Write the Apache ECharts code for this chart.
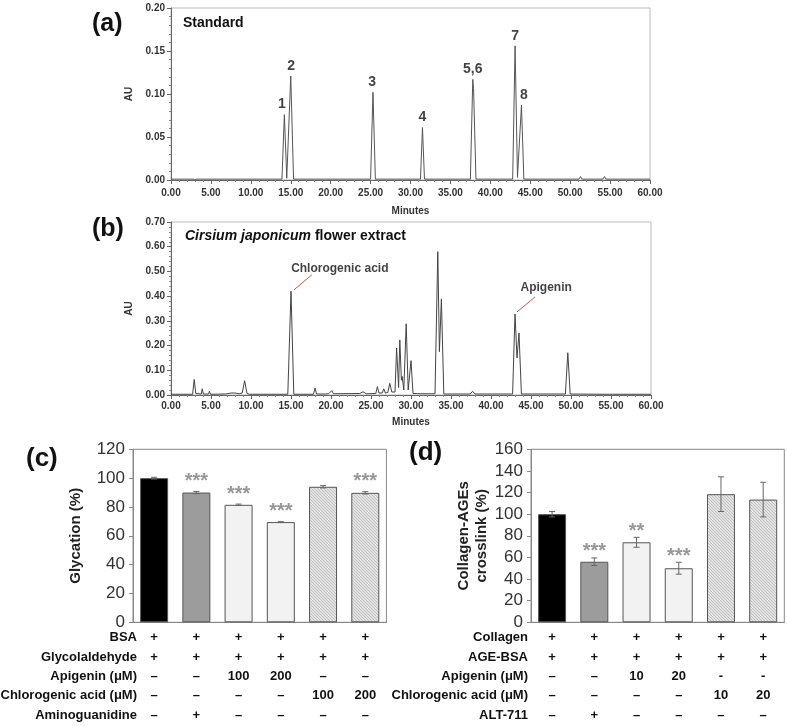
<!DOCTYPE html>
<html>
<head>
<meta charset="utf-8">
<script src="https://cdn.jsdelivr.net/npm/echarts@6/dist/echarts.min.js"></script>
<style>
  html, body { margin: 0; padding: 0; background: #fff; }
  #main { width: 787px; height: 726px; }
</style>
</head>
<body>
<div id="main"></div>
<script>
// (a) standard chromatogram trace, [minutes, AU]
const traceA = [
  [0, 0.001], [2.9, 0.001], [3.0, -0.002], [3.1, 0.001], [13.9, 0.001], [14.2, 0.076], [14.5, 0.002],
  [14.7, 0.002], [15.0, 0.121], [15.35, 0.001], [19.4, 0.001], [19.5, 0.002], [19.6, 0.001],
  [25.0, 0.001], [25.3, 0.102], [25.6, 0.001], [28.1, 0.001], [28.2, 0.002], [28.3, 0.001],
  [31.25, 0.001], [31.5, 0.061], [31.75, 0.001], [35.6, 0.001], [35.7, 0.002], [35.8, 0.001],
  [37.5, 0.001], [37.8, 0.117], [37.9, 0.106], [38.2, 0.001],
  [42.8, 0.001], [43.1, 0.156], [43.4, 0.003], [43.6, 0.003], [43.9, 0.087], [44.2, 0.001],
  [51.1, 0.001], [51.3, 0.004], [51.5, 0.001], [54.1, 0.001], [54.3, 0.004], [54.5, 0.001], [60, 0.001]
];
const peakLabelsA = [
  ['1', 13.9, 0.076], ['2', 15.05, 0.121], ['3', 25.2, 0.102], ['4', 31.5, 0.061],
  ['5,6', 37.8, 0.117], ['7', 43.1, 0.156], ['8', 44.2, 0.087]
];

// (b) flower extract trace, [minutes, AU]
const traceB = [
  [0, 0.003], [2.7, 0.003], [2.9, 0.063], [3.1, 0.006], [3.3, 0.004], [3.8, 0.004], [3.9, 0.025],
  [4.05, 0.004], [4.7, 0.004], [4.8, 0.015], [4.95, 0.003], [6.8, 0.004], [7.5, 0.008], [8.0, 0.008],
  [8.5, 0.005], [8.9, 0.008], [9.2, 0.058], [9.5, 0.006], [9.8, 0.003], [14.6, 0.003], [15.0, 0.42],
  [15.35, 0.003], [17.8, 0.003], [18.0, 0.028], [18.2, 0.004], [19.3, 0.004], [19.5, 0.012],
  [19.7, 0.005], [19.9, 0.005], [20.1, 0.018], [20.3, 0.005], [23.6, 0.006], [24.0, 0.013],
  [24.4, 0.005], [25.6, 0.006], [25.8, 0.034], [26.0, 0.008], [26.4, 0.008], [26.6, 0.025],
  [26.8, 0.008], [27.1, 0.01], [27.35, 0.047], [27.6, 0.012], [28.0, 0.012], [28.2, 0.19],
  [28.45, 0.03], [28.6, 0.223], [28.8, 0.06], [28.9, 0.075], [29.1, 0.02], [29.4, 0.288],
  [29.65, 0.02], [29.8, 0.02], [30.0, 0.139], [30.25, 0.006], [30.8, 0.006], [31.0, 0.013],
  [31.2, 0.005], [33.0, 0.005], [33.35, 0.58], [33.55, 0.175], [33.8, 0.389], [34.1, 0.004],
  [37.4, 0.004], [37.7, 0.015], [38.0, 0.004], [42.7, 0.004], [43.0, 0.328], [43.25, 0.15],
  [43.5, 0.251], [43.8, 0.004], [49.3, 0.004], [49.6, 0.171], [49.9, 0.004], [54.0, 0.003],
  [54.2, 0.01], [54.4, 0.003], [54.8, 0.003], [55.0, 0.01], [55.2, 0.003], [60, 0.003]
];
// label text, label anchor, leader line start, leader line end (on the peak)
const annotB = [
  ['Chlorogenic acid', [21.1, 0.51], [17.6, 0.486], [15.35, 0.425]],
  ['Apigenin', [46.9, 0.435], [45.5, 0.397], [43.25, 0.336]]
];

// (c) glycation
const valuesC = [100, 90, 81.5, 69.5, 94, 89.8];
const errC = [0.6, 0.8, 0.5, 0.3, 0.8, 0.8];
const starsC = ['', '***', '***', '***', '', '***'];
const rowsC = ['BSA', 'Glycolaldehyde', 'Apigenin (μM)', 'Chlorogenic acid (μM)', 'Aminoguanidine'];
const tableC = [
  ['+', '+', '+', '+', '+', '+'],
  ['+', '+', '+', '+', '+', '+'],
  ['–', '–', '100', '200', '–', '–'],
  ['–', '–', '–', '–', '100', '200'],
  ['–', '+', '–', '–', '–', '–']
];

// (d) collagen-AGEs crosslink
const valuesD = [100, 56, 74, 50, 118.5, 113.5];
const errD = [2.5, 3.5, 4.6, 5.5, 16, 16];
const starsD = ['', '***', '**', '***', '', ''];
const rowsD = ['Collagen', 'AGE-BSA', 'Apigenin (μM)', 'Chlorogenic acid (μM)', 'ALT-711'];
const tableD = [
  ['+', '+', '+', '+', '+', '+'],
  ['+', '+', '+', '+', '+', '+'],
  ['–', '–', '10', '20', '-', '-'],
  ['–', '–', '–', '–', '10', '20'],
  ['–', '+', '–', '–', '–', '–']
];

const FONT = 'Liberation Sans, Arial, sans-serif';
const ROW_H = 19.4;
const ROW_M = 5.7;

// hatch pattern for chlorogenic acid bars
const hatch = document.createElement('canvas');
hatch.width = 3; hatch.height = 3;
( function ()
{
  const c = hatch.getContext('2d');
  c.fillStyle = '#e2e2e2';
  c.fillRect(0, 0, 3, 3);
  c.fillStyle = '#c2c2c2';
  c.fillRect(0, 0, 1, 1);
  c.fillRect(1, 1, 1, 1);
  c.fillRect(2, 2, 1, 1);
} )();
const barFills = ['#000000', '#9c9c9c', '#f2f2f2', '#f2f2f2', { image: hatch, repeat: 'repeat' }, { image: hatch, repeat: 'repeat' }];

function chromX(gi, nameGap, margin)
{
  return {
    gridIndex: gi, type: 'value', min: 0, max: 60, interval: 5,
    name: 'Minutes', nameLocation: 'middle', nameGap: nameGap,
    nameTextStyle: { fontSize: 10, fontWeight: 'bold', color: '#333' },
    axisLine: { lineStyle: { color: '#666' } },
    axisTick: { length: 4, lineStyle: { color: '#666' } },
    minorTick: { show: true, splitNumber: 5, length: 2, lineStyle: { color: '#888' } },
    axisLabel: { fontSize: 10, fontWeight: 'bold', color: '#333', margin: margin, formatter: v => v.toFixed(2) },
    splitLine: { show: false }
  };
}
function chromY(gi, max, interval)
{
  return {
    gridIndex: gi, type: 'value', min: 0, max: max, interval: interval,
    name: 'AU', nameLocation: 'middle', nameGap: 31, nameRotate: 90,
    nameTextStyle: { fontSize: 10, fontWeight: 'bold', color: '#333' },
    axisLine: { show: true, lineStyle: { color: '#666' } },
    axisTick: { show: true, length: 4, lineStyle: { color: '#666' } },
    minorTick: { show: true, splitNumber: 5, length: 2, lineStyle: { color: '#888' } },
    axisLabel: { fontSize: 10, fontWeight: 'bold', color: '#333', margin: 6, formatter: v => v.toFixed(2) },
    splitLine: { show: false }
  };
}
function barX(gi, table)
{
  return {
    gridIndex: gi, type: 'category', data: ['0', '1', '2', '3', '4', '5'],
    axisLine: { lineStyle: { color: '#888' } },
    axisTick: { show: false },
    axisLabel: {
      interval: 0, margin: ROW_M, fontSize: 13, fontWeight: 'bold', color: '#111', lineHeight: ROW_H,
      formatter: function ( v, i ) { return table.map(r => r[i]).join('\n'); }
    }
  };
}
function barY(gi, max, name, gap)
{
  return {
    gridIndex: gi, type: 'value', min: 0, max: max, interval: 20,
    name: name, nameLocation: 'middle', nameGap: gap, nameRotate: 90,
    nameTextStyle: { fontSize: 15, fontWeight: 'bold', color: '#222', lineHeight: 18 },
    axisLine: { show: true, lineStyle: { color: '#888' } },
    axisTick: { show: true, length: 4, lineStyle: { color: '#888' } },
    axisLabel: { fontSize: 17, color: '#333', margin: 8 },
    splitLine: { show: false }
  };
}
function barSeries(gi, values)
{
  return {
    type: 'bar', xAxisIndex: gi, yAxisIndex: gi, barWidth: 28,
    data: values.map((v, i) => ({ value: v, itemStyle: { color: barFills[ i ] } })),
    itemStyle: { borderColor: '#555', borderWidth: 1 }
  };
}
function errSeries(gi, values, errs)
{
  return {
    type: 'custom', xAxisIndex: gi, yAxisIndex: gi, z: 10,
    data: values.map((v, i) => [ i, v - errs[ i ], v + errs[ i ] ]),
    renderItem: function ( params, api )
    {
      const lo = api.coord([ api.value(0), api.value(1) ]);
      const hi = api.coord([ api.value(0), api.value(2) ]);
      const st = { stroke: '#666', lineWidth: 1 };
      return {
        type: 'group', children: [
          { type: 'line', shape: { x1: lo[0], y1: lo[1], x2: hi[0], y2: hi[1] }, style: st },
          { type: 'line', shape: { x1: lo[0] - 3, y1: lo[1], x2: lo[0] + 3, y2: lo[1] }, style: st },
          { type: 'line', shape: { x1: hi[0] - 3, y1: hi[1], x2: hi[0] + 3, y2: hi[1] }, style: st }
        ]
      };
    }
  };
}
function starSeries(gi, values, errs, stars, dist)
{
  return {
    type: 'scatter', xAxisIndex: gi, yAxisIndex: gi, symbolSize: 0, silent: true,
    data: values.map((v, i) => ({ value: [ i, v + errs[ i ] ], name: stars[ i ] })),
    label: { show: true, position: 'top', distance: dist, formatter: '{b}', fontSize: 20, fontWeight: 'bold', color: '#7d7d7d' }
  };
}
function rowLabels(x, rows)
{
  return rows.map((r, i) => ({
    type: 'text', x: x, y: 622.3 + ROW_M + ROW_H * (i + 0.5),
    style: { text: r, align: 'right', verticalAlign: 'middle', font: 'bold 13px ' + FONT, fill: '#111' }
  }));
}

let myChart = echarts.init(document.getElementById('main'), null, { renderer: 'canvas' });
let option = {
  animation: false,
  textStyle: { fontFamily: FONT },
  grid: [
    { left: 171, top: 8, width: 479, height: 172, show: true, borderColor: '#bbb', borderWidth: 1 },
    { left: 171, top: 222, width: 480, height: 173, show: true, borderColor: '#bbb', borderWidth: 1 },
    { left: 133, top: 449.3, width: 253.4, height: 173, show: true, borderColor: '#888', borderWidth: 1 },
    { left: 531, top: 449.3, width: 253.3, height: 173, show: true, borderColor: '#888', borderWidth: 1 }
  ],
  xAxis: [ chromX(0, 26, 8), chromX(1, 22, 6), barX(2, tableC), barX(3, tableD) ],
  yAxis: [
    chromY(0, 0.2, 0.05), chromY(1, 0.7, 0.1),
    barY(2, 120, 'Glycation (%)', 48),
    barY(3, 160, 'Collagen-AGEs\ncrosslink (%)', 40)
  ],
  series: [
    {
      type: 'line', xAxisIndex: 0, yAxisIndex: 0, data: traceA, showSymbol: false,
      lineStyle: { color: '#555', width: 1 }
    },
    {
      type: 'scatter', xAxisIndex: 0, yAxisIndex: 0, symbolSize: 0, silent: true,
      data: peakLabelsA.map(p => ({ value: [ p[1], p[2] ], name: p[0] })),
      label: { show: true, position: 'top', distance: 3, formatter: '{b}', fontSize: 14, fontWeight: 'bold', color: '#111' }
    },
    {
      type: 'line', xAxisIndex: 1, yAxisIndex: 1, data: traceB, showSymbol: false,
      lineStyle: { color: '#444', width: 1 },
      markLine: {
        silent: true, symbol: [ 'none', 'none' ], label: { show: false },
        lineStyle: { color: '#c8504f', width: 1, type: 'solid' },
        data: annotB.map(a => [ { coord: a[2] }, { coord: a[3] } ])
      }
    },
    {
      type: 'scatter', xAxisIndex: 1, yAxisIndex: 1, symbolSize: 0, silent: true,
      data: annotB.map(a => ({ value: a[1], name: a[0] })),
      label: { show: true, position: 'inside', formatter: '{b}', fontSize: 12, fontWeight: 'bold', color: '#111' }
    },
    barSeries(2, valuesC), errSeries(2, valuesC, errC), starSeries(2, valuesC, errC, starsC, 0),
    barSeries(3, valuesD), errSeries(3, valuesD, errD), starSeries(3, valuesD, errD, starsD, -4)
  ],
  graphic: [
    { type: 'text', x: 92, y: 24, style: { text: '(a)', verticalAlign: 'middle', font: 'bold 25px ' + FONT, fill: '#111' } },
    { type: 'text', x: 92, y: 229, style: { text: '(b)', verticalAlign: 'middle', font: 'bold 25px ' + FONT, fill: '#111' } },
    { type: 'text', x: 26, y: 459, style: { text: '(c)', verticalAlign: 'middle', font: 'bold 26px ' + FONT, fill: '#111' } },
    { type: 'text', x: 409, y: 453, style: { text: '(d)', verticalAlign: 'middle', font: 'bold 26px ' + FONT, fill: '#111' } },
    { type: 'text', x: 183, y: 23, style: { text: 'Standard', verticalAlign: 'middle', font: 'bold 14px ' + FONT, fill: '#111' } },
    {
      type: 'text', x: 185, y: 236,
      style: {
        text: '{i|Cirsium japonicum} flower extract', verticalAlign: 'middle',
        font: 'bold 14px ' + FONT, fill: '#111',
        rich: { i: { fontStyle: 'italic', fontWeight: 'bold', fontSize: 14, fontFamily: FONT, color: '#111' } }
      }
    }
  ].concat(rowLabels(137, rowsC), rowLabels(528, rowsD))
};
myChart.setOption(option);
window.addEventListener('resize', function ()
{
  myChart.resize();
});
</script>
</body>
</html>
